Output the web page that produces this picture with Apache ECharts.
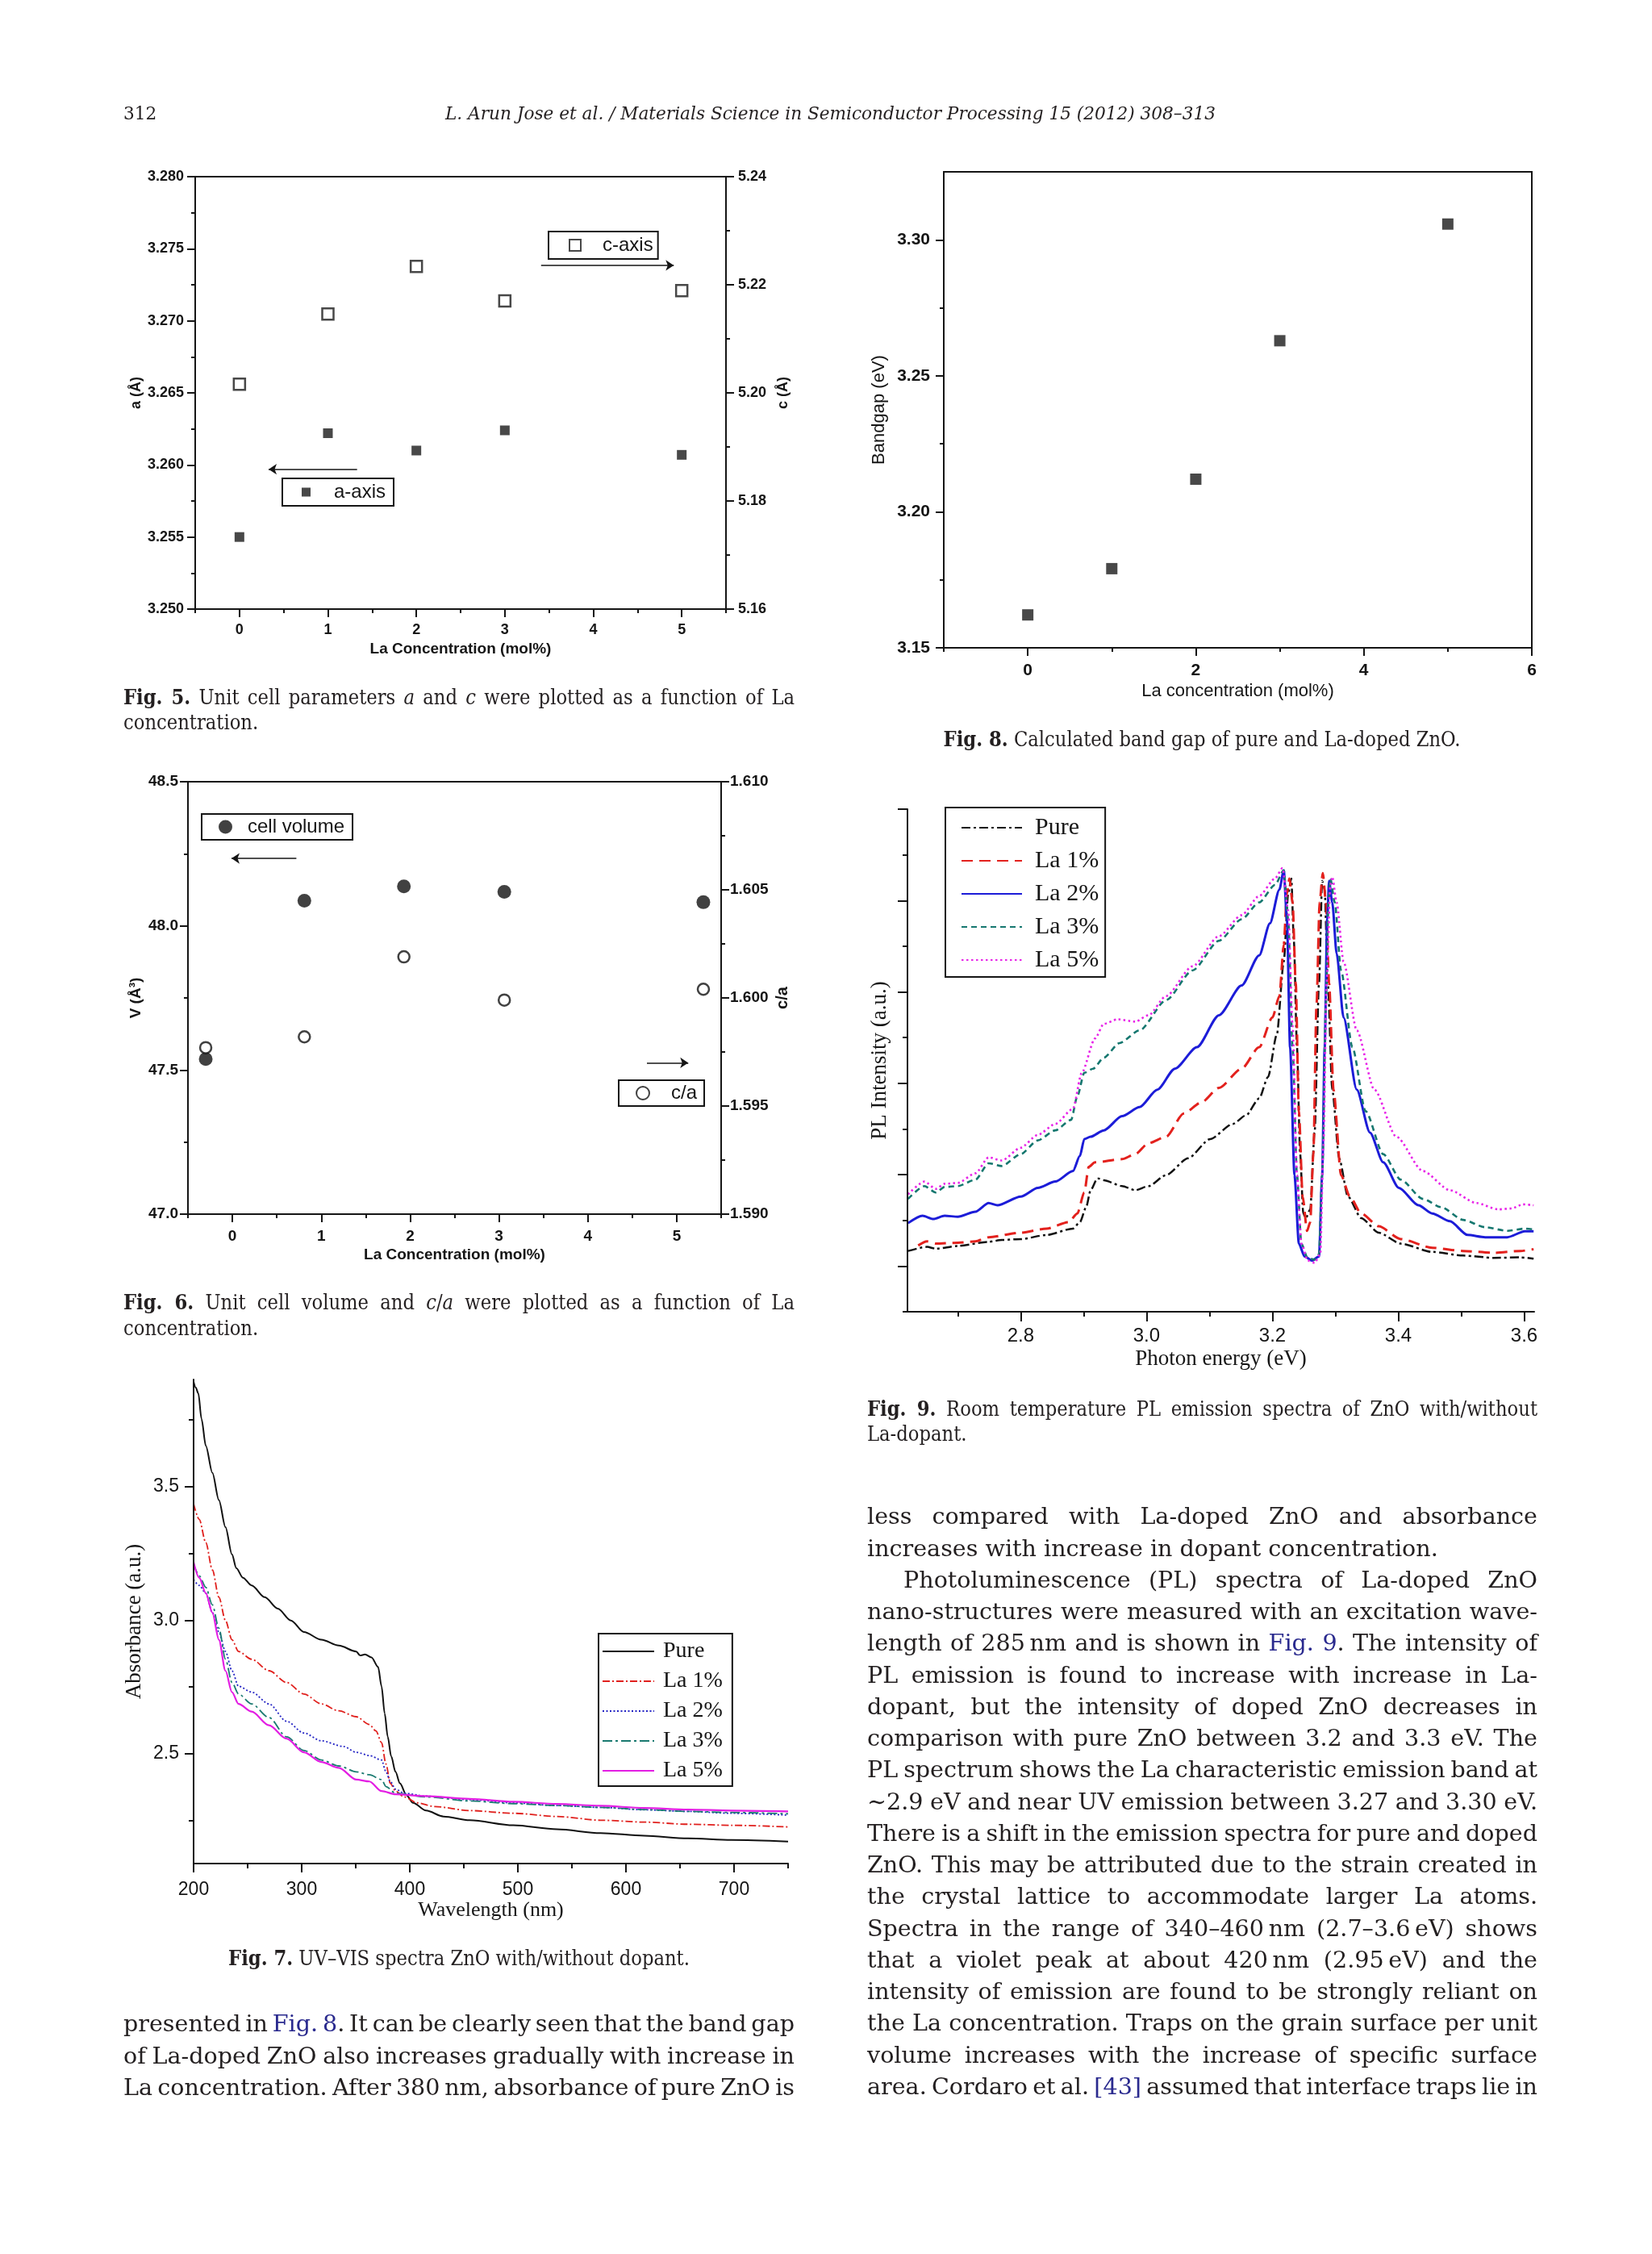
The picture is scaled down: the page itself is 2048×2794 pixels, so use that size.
<!DOCTYPE html>
<html>
<head>
<meta charset="utf-8">
<script src="https://cdn.jsdelivr.net/npm/echarts@6.0.0/dist/echarts.min.js"></script>
<style>
html,body{margin:0;padding:0;background:#fff;}
#page{position:relative;width:2048px;height:2794px;overflow:hidden;background:#fff;}
#chart{position:absolute;left:0;top:0;width:2048px;height:2794px;}
.t{position:absolute;white-space:nowrap;color:#231f20;font-family:"DejaVu Serif",serif;}
.cap{font-family:"DejaVu Serif Condensed","DejaVu Serif",serif;}
.lnk{color:#2a2a8e;}
</style>
</head>
<body>
<div id="page"><div id="chart"></div></div>
<script>
// ---------------- DATA ----------------
// Fig. 5  unit cell parameters
const fig5Conc = [0, 1, 2, 3, 5];
const fig5A = [3.2550, 3.2622, 3.2610, 3.2624, 3.2607];
const fig5C = [5.2016, 5.2146, 5.2234, 5.2170, 5.2189];
const fig5XLabels = [0, 1, 2, 3, 4, 5];
const fig5XTicks = [0, 1, 2, 3, 4, 5];
const fig5XMinor = [-0.5, 0.5, 1.5, 2.5, 3.5, 4.5, 5.5];
const fig5ATicks = [3.250, 3.255, 3.260, 3.265, 3.270, 3.275, 3.280];
const fig5AMinor = [3.2525, 3.2575, 3.2625, 3.2675, 3.2725, 3.2775];
const fig5CTicks = [5.16, 5.18, 5.20, 5.22, 5.24];
const fig5CMinor = [5.17, 5.19, 5.21, 5.23];
const fig5ArrowA = [[1.33, 3.2597], [0.33, 3.2597]];
const fig5ArrowC = [[3.41, 5.2236], [4.91, 5.2236]];

// Fig. 8  band gap
const fig8Conc = [0, 1, 2, 3, 5];
const fig8Gap = [3.1621, 3.1791, 3.2120, 3.2629, 3.3058];
const fig8XTicks = [0, 2, 4, 6];
const fig8XMinor = [-1, 1, 3, 5];
const fig8YTicks = [3.15, 3.20, 3.25, 3.30];
const fig8YMinor = [3.175, 3.225, 3.275];

// Fig. 6  cell volume and c/a
const fig6Conc = [-0.30, 0.81, 1.93, 3.06, 5.30];
const fig6Vol = [47.538, 48.087, 48.137, 48.118, 48.082];
const fig6CA = [1.5977, 1.5982, 1.6019, 1.5999, 1.6004];
const fig6XLabels = [0, 1, 2, 3, 4, 5];
const fig6XTicks = [0, 1, 2, 3, 4, 5];
const fig6XMinor = [-0.5, 0.5, 1.5, 2.5, 3.5, 4.5, 5.5];
const fig6VTicks = [47.0, 47.5, 48.0, 48.5];
const fig6VMinor = [47.25, 47.75, 48.25];
const fig6CATicks = [1.590, 1.595, 1.600, 1.605, 1.610];
const fig6CAMinor = [1.5925, 1.5975, 1.6025, 1.6075];
const fig6ArrowV = [[0.72, 48.234], [-0.01, 48.234]];
const fig6ArrowCA = [[4.665, 1.5970], [5.13, 1.5970]];

// Fig. 9  PL spectra  [photon energy eV, intensity a.u.]
const plPure = [[2.621,1.33],[2.651,1.42],[2.665,1.38],[2.700,1.44],[2.749,1.53],[2.770,1.57],[2.800,1.59],[2.841,1.68],[2.883,1.82],[2.894,1.96],[2.904,2.29],[2.911,2.66],[2.922,2.92],[2.932,2.88],[2.961,2.75],[2.982,2.66],[3.003,2.75],[3.031,2.99],[3.066,3.36],[3.101,3.78],[3.137,4.11],[3.158,4.30],[3.179,4.67],[3.193,5.14],[3.207,6.07],[3.218,7.66],[3.225,9.15],[3.230,9.48],[3.234,8.12],[3.239,5.79],[3.244,3.45],[3.249,2.15],[3.253,2.05],[3.260,2.24],[3.267,3.92],[3.274,7.19],[3.279,9.43],[3.283,9.24],[3.288,7.19],[3.295,4.86],[3.306,3.36],[3.320,2.52],[3.341,2.05],[3.369,1.73],[3.404,1.49],[3.454,1.31],[3.503,1.23],[3.552,1.18],[3.594,1.19],[3.615,1.16]];
const plLa1 = [[2.637,1.45],[2.651,1.54],[2.665,1.49],[2.700,1.51],[2.728,1.54],[2.749,1.63],[2.800,1.73],[2.841,1.82],[2.876,1.96],[2.890,2.15],[2.901,2.61],[2.908,3.17],[2.918,3.27],[2.961,3.34],[2.982,3.45],[3.003,3.69],[3.031,3.83],[3.059,4.34],[3.087,4.58],[3.115,4.90],[3.151,5.32],[3.179,5.79],[3.200,6.44],[3.211,6.91],[3.218,8.03],[3.223,9.15],[3.227,9.48],[3.232,8.96],[3.237,7.19],[3.242,4.39],[3.248,2.52],[3.255,1.77],[3.260,1.96],[3.265,3.45],[3.270,6.72],[3.275,8.96],[3.280,9.60],[3.285,8.96],[3.290,7.19],[3.297,4.86],[3.309,2.99],[3.323,2.52],[3.341,2.15],[3.369,1.87],[3.404,1.59],[3.454,1.40],[3.503,1.33],[3.552,1.29],[3.594,1.33],[3.615,1.37]];
const plLa2 = [[2.621,1.94],[2.644,2.10],[2.661,2.03],[2.679,2.10],[2.700,2.08],[2.728,2.19],[2.749,2.38],[2.763,2.33],[2.800,2.52],[2.827,2.71],[2.855,2.85],[2.883,3.08],[2.894,3.41],[2.901,3.78],[2.911,3.83],[2.932,3.97],[2.961,4.28],[2.989,4.48],[3.017,4.86],[3.045,5.32],[3.080,5.79],[3.115,6.49],[3.151,7.14],[3.179,7.80],[3.196,8.50],[3.211,9.24],[3.218,9.66],[3.223,8.59],[3.228,5.79],[3.235,2.99],[3.242,1.49],[3.251,1.21],[3.263,1.12],[3.274,1.21],[3.279,2.99],[3.283,5.79],[3.287,8.59],[3.290,9.43],[3.295,8.96],[3.302,7.84],[3.313,6.44],[3.334,4.86],[3.355,3.92],[3.376,3.27],[3.401,2.71],[3.432,2.33],[3.454,2.15],[3.482,1.98],[3.510,1.68],[3.538,1.63],[3.573,1.63],[3.601,1.76],[3.615,1.76]];
const plLa3 = [[2.621,2.47],[2.647,2.75],[2.665,2.61],[2.679,2.73],[2.700,2.75],[2.728,2.89],[2.749,3.25],[2.770,3.19],[2.800,3.45],[2.827,3.75],[2.855,3.97],[2.880,4.20],[2.890,4.72],[2.901,5.23],[2.915,5.32],[2.932,5.56],[2.957,5.88],[2.989,6.16],[3.031,6.82],[3.073,7.47],[3.115,8.12],[3.151,8.59],[3.179,8.96],[3.204,9.34],[3.218,9.66],[3.225,8.59],[3.232,5.79],[3.239,2.99],[3.246,1.49],[3.256,1.17],[3.267,1.14],[3.274,1.26],[3.279,2.99],[3.285,6.72],[3.289,8.96],[3.292,9.48],[3.299,8.96],[3.309,7.47],[3.327,5.79],[3.348,4.39],[3.376,3.45],[3.404,2.89],[3.439,2.47],[3.468,2.29],[3.503,2.01],[3.538,1.85],[3.573,1.77],[3.601,1.82],[3.615,1.80]];
const plLa5 = [[2.621,2.57],[2.647,2.85],[2.665,2.69],[2.679,2.80],[2.700,2.82],[2.728,3.03],[2.749,3.38],[2.770,3.31],[2.800,3.59],[2.827,3.87],[2.855,4.11],[2.883,4.44],[2.897,5.23],[2.918,5.98],[2.932,6.30],[2.954,6.40],[2.982,6.35],[3.003,6.49],[3.031,6.91],[3.073,7.56],[3.115,8.22],[3.151,8.68],[3.179,9.10],[3.204,9.48],[3.216,9.71],[3.225,8.78],[3.232,6.26],[3.239,2.99],[3.246,1.49],[3.256,1.12],[3.267,1.07],[3.276,1.26],[3.281,3.64],[3.286,7.19],[3.292,9.34],[3.295,9.52],[3.302,8.96],[3.313,7.66],[3.334,6.16],[3.362,4.86],[3.397,3.83],[3.439,3.08],[3.482,2.66],[3.524,2.38],[3.559,2.24],[3.580,2.26],[3.598,2.35],[3.615,2.33]];
const plNames = ['Pure', 'La 1%', 'La 2%', 'La 3%', 'La 5%'];
const fig9XTicks = [2.8, 3.0, 3.2, 3.4, 3.6];
const fig9XMinor = [2.7, 2.9, 3.1, 3.3, 3.5];
const fig9YTicks = [1, 3, 5, 7, 9, 11];
const fig9YMinor = [0, 2, 4, 6, 8, 10];

// Fig. 7  UV-VIS spectra  [wavelength nm, absorbance a.u.]
const uvPure = [[200,3.892],[202,3.870],[204.4,3.848],[207.3,3.753],[211.3,3.652],[217.4,3.551],[223.4,3.449],[229.5,3.348],[235.5,3.246],[239.5,3.195],[245.6,3.159],[253.7,3.130],[265.8,3.086],[277.9,3.043],[290,2.999],[302.1,2.956],[318.2,2.927],[334.4,2.905],[350.5,2.883],[354,2.868],[358.6,2.872],[364.6,2.861],[370.7,2.825],[373.9,2.752],[376.8,2.651],[379.6,2.564],[382.8,2.491],[386.8,2.433],[390.9,2.390],[396.9,2.346],[403,2.317],[415.1,2.288],[431.2,2.266],[455.4,2.252],[495.8,2.233],[536.2,2.218],[576.5,2.204],[616.9,2.194],[657.2,2.184],[697.6,2.178],[750,2.172]];
const uvLa1 = [[200,3.435],[205.2,3.377],[211.3,3.290],[217.4,3.188],[223.4,3.086],[229.5,2.999],[235.5,2.927],[241.6,2.883],[253.7,2.854],[269.8,2.811],[286,2.767],[302.1,2.724],[318.2,2.687],[334.4,2.661],[350.5,2.639],[362.6,2.610],[368.7,2.586],[373.9,2.542],[378,2.462],[382,2.390],[386.8,2.361],[394.9,2.339],[407,2.317],[423.2,2.303],[455.4,2.288],[495.8,2.278],[536.2,2.266],[576.5,2.252],[616.9,2.245],[657.2,2.237],[697.6,2.233],[750,2.227]];
const uvLa2 = [[200,3.152],[205.2,3.130],[211.3,3.101],[217.4,3.028],[223.4,2.956],[229.5,2.883],[235.5,2.811],[241.6,2.753],[253.7,2.731],[269.8,2.687],[286,2.622],[302.1,2.578],[318.2,2.549],[338.4,2.528],[350.5,2.506],[362.6,2.494],[373.9,2.477],[378,2.433],[382,2.397],[386.8,2.368],[394.9,2.353],[415.1,2.342],[455.4,2.329],[495.8,2.317],[536.2,2.307],[576.5,2.300],[616.9,2.291],[657.2,2.285],[697.6,2.278],[750,2.271]];
const uvLa3 = [[200,3.210],[205.2,3.166],[211.3,3.123],[217.4,3.057],[223.4,2.970],[229.5,2.854],[235.5,2.767],[241.6,2.724],[253.7,2.687],[269.8,2.636],[286,2.564],[302.1,2.513],[318.2,2.477],[334.4,2.455],[350.5,2.433],[362.6,2.422],[373.9,2.404],[378,2.378],[386.8,2.353],[415.1,2.339],[455.4,2.324],[495.8,2.314],[536.2,2.307],[576.5,2.300],[616.9,2.292],[657.2,2.285],[697.6,2.281],[750,2.276]];
const uvLa5 = [[200,3.217],[205.2,3.159],[211.3,3.101],[217.4,3.028],[223.4,2.927],[229.5,2.811],[235.5,2.731],[241.6,2.687],[253.7,2.658],[269.8,2.607],[286,2.557],[302.1,2.506],[318.2,2.470],[334.4,2.448],[350.5,2.404],[362.6,2.397],[373.9,2.361],[386.8,2.349],[415.1,2.342],[455.4,2.332],[495.8,2.321],[536.2,2.313],[576.5,2.306],[616.9,2.298],[657.2,2.292],[697.6,2.288],[750,2.285]];
const uvNames = ['Pure', 'La 1%', 'La 2%', 'La 3%', 'La 5%'];
const fig7XTicks = [200, 300, 400, 500, 600, 700];
const fig7XMinor = [250, 350, 450, 550, 650, 750];
const fig7YTicks = [2.5, 3.0, 3.5];
const fig7YMinor = [2.25, 2.75, 3.25, 3.75];

// ---------------- CHART ----------------
const INK = '#151515';
const SANS = '"Liberation Sans", Arial, sans-serif';
const SERIF = '"Liberation Serif", "Times New Roman", serif';

const xAxes = [], yAxes = [];
function mkAxis(o) {
  const isY = o.dim === 'y';
  const ax = {
    type: 'value', gridIndex: o.grid, position: o.pos, min: o.min, max: o.max, offset: 0,
    axisLine: { show: !o.minorOnly, onZero: false, lineStyle: { color: INK, width: 2 } },
    axisTick: { show: true, inside: false, customValues: o.ticks, length: o.len, lineStyle: { color: INK, width: 2 } },
    minorTick: { show: false },
    axisLabel: o.labels ? { show: true, customValues: o.labels, formatter: o.fmt, margin: o.margin,
      color: INK, fontFamily: o.font || SANS, fontSize: o.size, fontWeight: o.weight || 'normal' } : { show: false },
    splitLine: { show: false }, splitArea: { show: false },
    name: o.name || '', nameLocation: 'middle', nameGap: o.nameGap || 0, nameRotate: isY ? 90 : 0,
    nameTextStyle: { color: INK, fontFamily: o.nameFont || SANS, fontSize: o.nameSize || 18, fontWeight: o.nameWeight || 'normal' },
    silent: true, z: 5
  };
  const list = isY ? yAxes : xAxes;
  list.push(ax);
  return list.length - 1;
}

const grids = [
  { left: 242, top: 219, width: 658, height: 536, show: true, borderColor: INK, borderWidth: 2, backgroundColor: 'transparent', outerBoundsMode: 'none' },
  { left: 1170, top: 213, width: 729, height: 590, show: true, borderColor: INK, borderWidth: 2, backgroundColor: 'transparent', outerBoundsMode: 'none' },
  { left: 233, top: 969, width: 661, height: 536, show: true, borderColor: INK, borderWidth: 2, backgroundColor: 'transparent', outerBoundsMode: 'none' },
  { left: 1125, top: 1003, width: 777, height: 623, show: false, outerBoundsMode: 'none' },
  { left: 240, top: 1710, width: 737, height: 600, show: false, outerBoundsMode: 'none' }
];

const f0 = v => String(Math.round(v));
const f1 = v => v.toFixed(1);
const f2 = v => v.toFixed(2);
const f3 = v => v.toFixed(3);

// Fig 5
const x5 = mkAxis({ dim: 'x', grid: 0, pos: 'bottom', min: -0.5, max: 5.5, ticks: fig5XTicks, len: 10, labels: fig5XLabels, fmt: f0, margin: 17, size: 18, weight: 'bold',
  name: 'La Concentration (mol%)', nameGap: 40, nameSize: 19, nameWeight: 'bold' });
mkAxis({ dim: 'x', grid: 0, pos: 'bottom', min: -0.5, max: 5.5, ticks: fig5XMinor, len: 5, minorOnly: true });
const y5a = mkAxis({ dim: 'y', grid: 0, pos: 'left', min: 3.25, max: 3.28, ticks: fig5ATicks, len: 10, labels: fig5ATicks, fmt: f3, margin: 14, size: 18, weight: 'bold',
  name: 'a (Å)', nameGap: 64, nameSize: 18, nameWeight: 'bold' });
mkAxis({ dim: 'y', grid: 0, pos: 'left', min: 3.25, max: 3.28, ticks: fig5AMinor, len: 5, minorOnly: true });
const y5c = mkAxis({ dim: 'y', grid: 0, pos: 'right', min: 5.16, max: 5.24, ticks: fig5CTicks, len: 10, labels: fig5CTicks, fmt: f2, margin: 15, size: 18, weight: 'bold',
  name: 'c (Å)', nameGap: 62, nameSize: 18, nameWeight: 'bold' });
mkAxis({ dim: 'y', grid: 0, pos: 'right', min: 5.16, max: 5.24, ticks: fig5CMinor, len: 5, minorOnly: true });

// Fig 8
const x8 = mkAxis({ dim: 'x', grid: 1, pos: 'bottom', min: -1, max: 6, ticks: fig8XTicks, len: 10, labels: fig8XTicks, fmt: f0, margin: 18, size: 21, weight: 'bold',
  name: 'La concentration (mol%)', nameGap: 43, nameSize: 22 });
mkAxis({ dim: 'x', grid: 1, pos: 'bottom', min: -1, max: 6, ticks: fig8XMinor, len: 5, minorOnly: true });
const y8 = mkAxis({ dim: 'y', grid: 1, pos: 'left', min: 3.15, max: 3.325, ticks: fig8YTicks, len: 10, labels: fig8YTicks, fmt: f2, margin: 17, size: 21, weight: 'bold',
  name: 'Bandgap (eV)', nameGap: 69, nameSize: 22 });
mkAxis({ dim: 'y', grid: 1, pos: 'left', min: 3.15, max: 3.325, ticks: fig8YMinor, len: 5, minorOnly: true });

// Fig 6
const x6 = mkAxis({ dim: 'x', grid: 2, pos: 'bottom', min: -0.5, max: 5.5, ticks: fig6XTicks, len: 10, labels: fig6XLabels, fmt: f0, margin: 18, size: 19, weight: 'bold',
  name: 'La Concentration (mol%)', nameGap: 41, nameSize: 19, nameWeight: 'bold' });
mkAxis({ dim: 'x', grid: 2, pos: 'bottom', min: -0.5, max: 5.5, ticks: fig6XMinor, len: 5, minorOnly: true });
const y6v = mkAxis({ dim: 'y', grid: 2, pos: 'left', min: 47.0, max: 48.5, ticks: fig6VTicks, len: 10, labels: fig6VTicks, fmt: f1, margin: 12, size: 19, weight: 'bold',
  name: 'V (Å³)', nameGap: 55, nameSize: 19, nameWeight: 'bold' });
mkAxis({ dim: 'y', grid: 2, pos: 'left', min: 47.0, max: 48.5, ticks: fig6VMinor, len: 5, minorOnly: true });
const y6ca = mkAxis({ dim: 'y', grid: 2, pos: 'right', min: 1.590, max: 1.610, ticks: fig6CATicks, len: 10, labels: fig6CATicks, fmt: f3, margin: 11, size: 19, weight: 'bold',
  name: 'c/a', nameGap: 66, nameSize: 20, nameWeight: 'bold' });
mkAxis({ dim: 'y', grid: 2, pos: 'right', min: 1.590, max: 1.610, ticks: fig6CAMinor, len: 5, minorOnly: true });

// Fig 9
const x9 = mkAxis({ dim: 'x', grid: 3, pos: 'bottom', min: 2.62, max: 3.616, ticks: fig9XTicks, len: 12, labels: fig9XTicks, fmt: f1, margin: 18, size: 24,
  name: 'Photon energy (eV)', nameGap: 45, nameFont: SERIF, nameSize: 27 });
mkAxis({ dim: 'x', grid: 3, pos: 'bottom', min: 2.62, max: 3.616, ticks: fig9XMinor, len: 6, minorOnly: true });
const y9 = mkAxis({ dim: 'y', grid: 3, pos: 'left', min: 0, max: 11, ticks: fig9YTicks, len: 12,
  name: 'PL Intensity (a.u.)', nameGap: 21, nameFont: SERIF, nameSize: 27 });
mkAxis({ dim: 'y', grid: 3, pos: 'left', min: 0, max: 11, ticks: fig9YMinor, len: 6, minorOnly: true });

// Fig 7
const x7 = mkAxis({ dim: 'x', grid: 4, pos: 'bottom', min: 200, max: 750, ticks: fig7XTicks, len: 11, labels: fig7XTicks, fmt: f0, margin: 21, size: 23,
  name: 'Wavelength (nm)', nameGap: 43, nameFont: SERIF, nameSize: 26 });
mkAxis({ dim: 'x', grid: 4, pos: 'bottom', min: 200, max: 750, ticks: fig7XMinor, len: 6, minorOnly: true });
const y7 = mkAxis({ dim: 'y', grid: 4, pos: 'left', min: 2.09, max: 3.9, ticks: fig7YTicks, len: 11, labels: fig7YTicks, fmt: f1, margin: 18, size: 23,
  name: 'Absorbance (a.u.)', nameGap: 60, nameFont: SERIF, nameSize: 27 });
mkAxis({ dim: 'y', grid: 4, pos: 'left', min: 2.09, max: 3.9, ticks: fig7YMinor, len: 6, minorOnly: true });

function pairs(xs, ys) { return xs.map((x, i) => [x, ys[i]]); }
function arrow(seg) {
  return { silent: true, animation: false, symbol: ['none', 'arrow'], symbolSize: 10,
    label: { show: false }, emphasis: { disabled: true },
    lineStyle: { color: INK, width: 1.6, type: 'solid' },
    data: [[{ coord: seg[0] }, { coord: seg[1] }]] };
}

const series = [];
series.push({ type: 'scatter', name: 'a-axis', xAxisIndex: x5, yAxisIndex: y5a, data: pairs(fig5Conc, fig5A),
  symbol: 'rect', symbolSize: 12, itemStyle: { color: '#1a1a1a' }, markLine: arrow(fig5ArrowA), silent: true });
series.push({ type: 'scatter', name: 'c-axis', xAxisIndex: x5, yAxisIndex: y5c, data: pairs(fig5Conc, fig5C),
  symbol: 'rect', symbolSize: 14, itemStyle: { color: '#ffffff', borderColor: '#1a1a1a', borderWidth: 2.5 }, markLine: arrow(fig5ArrowC), silent: true });
series.push({ type: 'scatter', name: 'Bandgap', xAxisIndex: x8, yAxisIndex: y8, data: pairs(fig8Conc, fig8Gap),
  symbol: 'rect', symbolSize: 14, itemStyle: { color: '#1a1a1a' }, silent: true });
series.push({ type: 'scatter', name: 'cell volume', xAxisIndex: x6, yAxisIndex: y6v, data: pairs(fig6Conc, fig6Vol),
  symbol: 'circle', symbolSize: 17, itemStyle: { color: '#111111' }, markLine: arrow(fig6ArrowV), silent: true });
series.push({ type: 'scatter', name: 'c/a', xAxisIndex: x6, yAxisIndex: y6ca, data: pairs(fig6Conc, fig6CA),
  symbol: 'circle', symbolSize: 14, itemStyle: { color: '#ffffff', borderColor: '#111111', borderWidth: 2.5 }, markLine: arrow(fig6ArrowCA), silent: true });

const plData = [plPure, plLa1, plLa2, plLa3, plLa5];
const plStyle = [
  { color: '#111111', width: 2.5, type: [11, 4, 3, 4] },
  { color: '#e3211d', width: 3, type: [14, 8] },
  { color: '#1c1cd8', width: 3, type: 'solid' },
  { color: '#15776f', width: 2.6, type: [7, 5] },
  { color: '#e824e8', width: 2.6, type: [2.5, 3.5] }
];
plNames.forEach((n, i) => series.push({ type: 'line', name: n, xAxisIndex: x9, yAxisIndex: y9, data: plData[i],
  symbol: 'none', smooth: 0.25, smoothMonotone: 'x', lineStyle: plStyle[i], itemStyle: { color: plStyle[i].color }, silent: true, z: 3 }));

const uvData = [uvPure, uvLa1, uvLa2, uvLa3, uvLa5];
const uvStyle = [
  { color: '#111111', width: 2, type: 'solid' },
  { color: '#e0201d', width: 1.8, type: [9, 3, 2, 3] },
  { color: '#2424c4', width: 1.8, type: [2, 2.5] },
  { color: '#1a7a70', width: 1.8, type: [12, 4, 3, 4] },
  { color: '#e31ee3', width: 2.2, type: 'solid' }
];
uvNames.forEach((n, i) => series.push({ type: 'line', name: 'UV ' + n, xAxisIndex: x7, yAxisIndex: y7, data: uvData[i],
  symbol: 'none', smooth: 0.3, smoothMonotone: 'x', lineStyle: uvStyle[i], itemStyle: { color: uvStyle[i].color }, silent: true, z: 3 }));

function box(o) {
  return Object.assign({
    show: true, orient: 'vertical', selectedMode: false, borderColor: INK, borderWidth: 2, borderRadius: 0,
    backgroundColor: 'transparent', itemGap: 0, symbolKeepAspect: true,
    textStyle: { color: INK, fontFamily: SANS, fontSize: 24 }
  }, o);
}
const legends = [
  box({ data: ['c-axis'], left: 680, top: 287, padding: [5, 6, 5, 25], itemWidth: 14, itemHeight: 14,
    textStyle: { color: INK, fontFamily: SANS, fontSize: 24, padding: [0, 0, 0, 22] } }),
  box({ data: ['a-axis'], left: 350, top: 593, padding: [5, 10, 5, 24], itemWidth: 11, itemHeight: 11,
    textStyle: { color: INK, fontFamily: SANS, fontSize: 24, padding: [0, 0, 0, 24] } }),
  box({ data: ['cell volume'], left: 250, top: 1009, padding: [4, 10, 4, 21], itemWidth: 17, itemHeight: 17,
    textStyle: { color: INK, fontFamily: SANS, fontSize: 24, padding: [0, 0, 0, 14] } }),
  box({ data: ['c/a'], left: 767, top: 1339, padding: [4, 9, 4, 21], itemWidth: 16, itemHeight: 16,
    textStyle: { color: INK, fontFamily: SANS, fontSize: 24, padding: [0, 0, 0, 22] } }),
  box({ data: plNames, left: 1172, top: 1001, padding: [10, 8, 6, 19], itemWidth: 75, itemHeight: 14, itemGap: 11,
    itemStyle: { opacity: 0 }, textStyle: { color: INK, fontFamily: SERIF, fontSize: 30, padding: [0, 0, 0, 11] } }),
  box({ data: uvNames.map(n => 'UV ' + n), left: 742, top: 2025, padding: [8, 12, 5, 4], itemWidth: 64, itemHeight: 12, itemGap: 9,
    formatter: n => n.replace('UV ', ''),
    itemStyle: { opacity: 0 }, textStyle: { color: INK, fontFamily: SERIF, fontSize: 28, padding: [0, 0, 0, 6] } })
];

const chart = echarts.init(document.getElementById('chart'), null, { renderer: 'canvas', width: 2048, height: 2794 });
chart.setOption({
  animation: false,
  backgroundColor: '#ffffff',
  textStyle: { fontFamily: SANS, color: INK },
  tooltip: { show: false },
  grid: grids,
  xAxis: xAxes,
  yAxis: yAxes,
  legend: legends,
  series: series
});

// ---------------- PAGE TEXT ----------------
const page = document.getElementById('page');
const BODY_FONT = '"DejaVu Serif", serif';
const CAP_FONT = '"DejaVu Serif Condensed", "DejaVu Serif", serif';
function textWidth(html, size, font, style) {
  const s = document.createElement('span');
  s.style.cssText = 'position:absolute;left:-10000px;top:-1000px;white-space:nowrap;font-family:' + font + ';font-size:' + size + 'px;' + (style || '');
  s.innerHTML = html; document.body.appendChild(s);
  const w = s.getBoundingClientRect().width; s.remove(); return w;
}
function placeLine(html, x, yc, size, lh, targetW, cls, style, centerX) {
  const d = document.createElement('div');
  d.className = 't' + (cls ? ' ' + cls : '');
  d.style.cssText += 'left:' + x + 'px;top:' + (yc - lh / 2) + 'px;font-size:' + size + 'px;line-height:' + lh + 'px;' + (style || '');
  d.innerHTML = html; page.appendChild(d);
  if (targetW) {
    const w = d.getBoundingClientRect().width;
    const n = (d.textContent.match(/ /g) || []).length;
    if (n > 0) d.style.wordSpacing = ((targetW - w) / n) + 'px';
  }
  if (centerX != null) {
    const w = d.getBoundingClientRect().width;
    d.style.left = (centerX - w / 2) + 'px';
  }
  return d;
}

const headerTitle = 'L. Arun Jose et al. / Materials Science in Semiconductor Processing 15 (2012) 308–313';
const headSize = 100 * 956 / textWidth(headerTitle, 100, BODY_FONT, 'font-style:italic;');
placeLine('312', 153, 141, headSize, 40, null, '', '');
placeLine(headerTitle, 552, 141, headSize, 40, null, '', 'font-style:italic;');

const capSize = 100 * 641 / textWidth('<b>Fig. 8.</b> Calculated band gap of pure and La-doped ZnO.', 100, CAP_FONT);
const bodySize = 100 * 708 / textWidth('increases with increase in dopant concentration.', 100, BODY_FONT);

const fig5Cap = ['<b>Fig. 5.</b> Unit cell parameters <i>a</i> and <i>c</i> were plotted as a function of La', 'concentration.'];
const fig6Cap = ['<b>Fig. 6.</b> Unit cell volume and <i>c</i>/<i>a</i> were plotted as a function of La', 'concentration.'];
const fig9Cap = ['<b>Fig. 9.</b> Room temperature PL emission spectra of ZnO with/without', 'La-dopant.'];
const fig8Cap = '<b>Fig. 8.</b> Calculated band gap of pure and La-doped ZnO.';
const fig7Cap = '<b>Fig. 7.</b> UV–VIS spectra ZnO with/without dopant.';

placeLine(fig5Cap[0], 153, 864, capSize, 31, 832, 'cap');
placeLine(fig5Cap[1], 153, 895, capSize, 31, null, 'cap');
placeLine(fig6Cap[0], 153, 1614, capSize, 31, 832, 'cap');
placeLine(fig6Cap[1], 153, 1646, capSize, 31, null, 'cap');
placeLine(fig9Cap[0], 1075, 1746, capSize, 31, 831, 'cap');
placeLine(fig9Cap[1], 1075, 1777, capSize, 31, null, 'cap');
placeLine(fig8Cap, 0, 916, capSize, 31, null, 'cap', '', 1490);
placeLine(fig7Cap, 0, 2427, capSize, 31, null, 'cap', '', 569);

const LH = 39.25;
const rightLines = [
  ['less compared with La-doped ZnO and absorbance', 1, 0],
  ['increases with increase in dopant concentration.', 0, 0],
  ['Photoluminescence (PL) spectra of La-doped ZnO', 1, 1],
  ['nano-structures were measured with an excitation wave-', 1, 0],
  ['length of 285\u2009nm and is shown in <span class="lnk">Fig. 9</span>. The intensity of', 1, 0],
  ['PL emission is found to increase with increase in La-', 1, 0],
  ['dopant, but the intensity of doped ZnO decreases in', 1, 0],
  ['comparison with pure ZnO between 3.2 and 3.3 eV. The', 1, 0],
  ['PL spectrum shows the La characteristic emission band at', 1, 0],
  ['\u223c2.9 eV and near UV emission between 3.27 and 3.30 eV.', 1, 0],
  ['There is a shift in the emission spectra for pure and doped', 1, 0],
  ['ZnO. This may be attributed due to the strain created in', 1, 0],
  ['the crystal lattice to accommodate larger La atoms.', 1, 0],
  ['Spectra in the range of 340–460\u2009nm (2.7–3.6\u2009eV) shows', 1, 0],
  ['that a violet peak at about 420\u2009nm (2.95\u2009eV) and the', 1, 0],
  ['intensity of emission are found to be strongly reliant on', 1, 0],
  ['the La concentration. Traps on the grain surface per unit', 1, 0],
  ['volume increases with the increase of specific surface', 1, 0],
  ['area. Cordaro et al. <span class="lnk">[43]</span> assumed that interface traps lie in', 1, 0]
];
rightLines.forEach((l, i) => {
  const indent = l[2] ? 45 : 0;
  placeLine(l[0], 1075 + indent, 1880 + i * LH, bodySize, LH, l[1] ? 831 - indent : null);
});
const leftLines = [
  'presented in <span class="lnk">Fig. 8</span>. It can be clearly seen that the band gap',
  'of La-doped ZnO also increases gradually with increase in',
  'La concentration. After 380\u2009nm, absorbance of pure ZnO is'
];
leftLines.forEach((l, i) => placeLine(l, 153, 2509 + i * LH, bodySize, LH, 832));
</script>
</body>
</html>
